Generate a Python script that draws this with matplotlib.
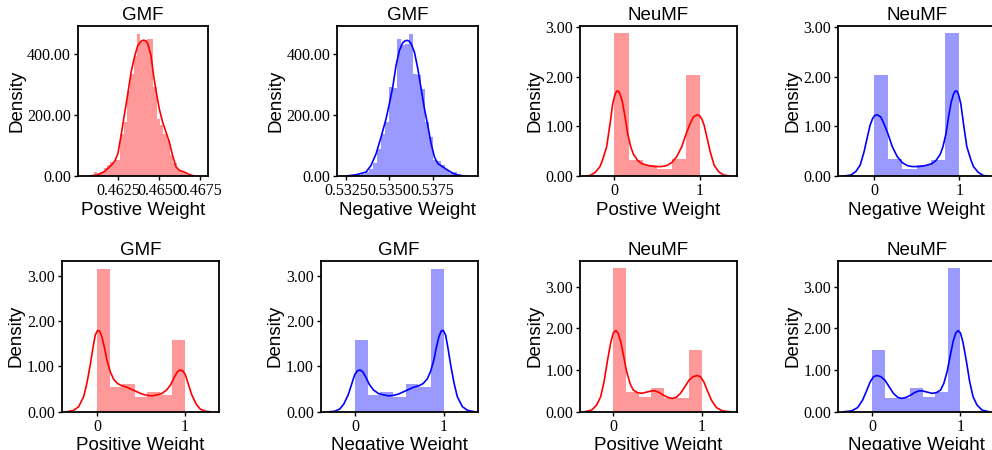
import numpy as np
import matplotlib
matplotlib.use("Agg")
import matplotlib.pyplot as plt
from matplotlib.ticker import FormatStrFormatter

# 1. Data

titles = ["GMF", "GMF", "NeuMF", "NeuMF", "GMF", "GMF", "NeuMF", "NeuMF"]
xlabels = ["Postive Weight", "Negative Weight", "Postive Weight", "Negative Weight",
           "Positive Weight", "Negative Weight", "Positive Weight", "Negative Weight"]
colors = ["r", "b", "r", "b", "r", "b", "r", "b"]

# GMF, positive weight (top row)
p1_bins = np.linspace(0.46098, 0.46667, 29)
p1_hist = [13, 11, 13, 26, 37, 46, 51, 51, 139, 177, 281, 336, 396, 468,
           442, 446, 451, 451, 292, 188, 166, 139, 117, 70, 44, 19, 15, 11]
p1_kde_x = [0.46073, 0.46124, 0.46165, 0.46205, 0.46226, 0.46246, 0.46266, 0.46287,
            0.46307, 0.46327, 0.46348, 0.46368, 0.46388, 0.46399, 0.46409, 0.46419,
            0.46429, 0.46449, 0.46465, 0.46480, 0.46500, 0.46520, 0.46541, 0.46561,
            0.46581, 0.46602, 0.46622, 0.46652, 0.46683, 0.46713]
p1_kde_y = [0, 4, 15, 35, 48, 73, 134, 205, 270, 341, 391, 429, 443, 446, 446, 443,
            435, 396, 329, 280, 220, 177, 144, 112, 68, 30, 19, 13, 5, 0]

# GMF, negative weight (top row)
p2_bins = np.linspace(0.53312, 0.53912, 27)
p2_hist = [4, 8, 13, 24, 44, 90, 139, 177, 292, 289, 451, 429, 435, 468,
           336, 331, 287, 177, 128, 51, 48, 35, 19, 11, 13, 8]
p2_kde_x = [0.532502, 0.533080, 0.533657, 0.533946, 0.534235, 0.534523, 0.534812,
            0.535004, 0.535197, 0.535389, 0.535582, 0.535774, 0.535900, 0.536024,
            0.536140, 0.536256, 0.536448, 0.536641, 0.536833, 0.537025, 0.537218,
            0.537410, 0.537603, 0.537795, 0.538084, 0.538373, 0.538661, 0.538950,
            0.539335]
p2_kde_y = [0, 4, 13, 35, 73, 128, 188, 238, 292, 364, 413, 438, 444, 446, 443, 435,
            407, 353, 287, 221, 166, 106, 62, 41, 30, 19, 9, 3, 0]

# NeuMF, positive weight (top row)
p3_bins = np.linspace(0, 1, 7)
p3_hist = [2.87, 0.32, 0.22, 0.14, 0.34, 2.04]
p3_kde_x = [-0.330, -0.284, -0.225, -0.167, -0.136, -0.089, -0.050, -0.019, 0.008,
            0.028, 0.047, 0.067, 0.094, 0.125, 0.156, 0.191, 0.222, 0.269, 0.319,
            0.397, 0.475, 0.553, 0.611, 0.669, 0.728, 0.786, 0.837, 0.883, 0.922,
            0.961, 0.992, 1.019, 1.047, 1.078, 1.117, 1.163, 1.214, 1.272, 1.350]
p3_kde_y = [0, 0.01, 0.07, 0.19, 0.33, 0.59, 1.05, 1.45, 1.64, 1.71, 1.71, 1.65, 1.49,
            1.19, 0.85, 0.59, 0.44, 0.32, 0.25, 0.21, 0.19, 0.19, 0.21, 0.27, 0.39,
            0.59, 0.85, 1.05, 1.19, 1.23, 1.22, 1.15, 1.02, 0.79, 0.49, 0.22, 0.09,
            0.02, 0]

# NeuMF, negative weight (top row)
p4_bins = np.linspace(0, 1, 7)
p4_hist = [2.04, 0.34, 0.14, 0.22, 0.32, 2.87]
p4_kde_x = [-0.350, -0.272, -0.214, -0.163, -0.117, -0.078, -0.047, -0.019, 0.008,
            0.039, 0.078, 0.117, 0.163, 0.214, 0.272, 0.331, 0.389, 0.447, 0.525,
            0.603, 0.681, 0.731, 0.778, 0.809, 0.844, 0.875, 0.906, 0.933, 0.953,
            0.972, 0.992, 1.019, 1.050, 1.089, 1.136, 1.167, 1.225, 1.284, 1.330]
p4_kde_y = [0, 0.02, 0.09, 0.22, 0.49, 0.79, 1.02, 1.15, 1.22, 1.23, 1.19, 1.05, 0.85,
            0.59, 0.39, 0.27, 0.21, 0.19, 0.19, 0.21, 0.25, 0.32, 0.44, 0.59, 0.85,
            1.19, 1.49, 1.65, 1.71, 1.71, 1.64, 1.45, 1.05, 0.59, 0.33, 0.19, 0.07,
            0.01, 0]

# GMF, positive weight (bottom row)
p5_bins = np.linspace(0, 1, 8)
p5_hist = [3.15, 0.54, 0.60, 0.32, 0.43, 0.37, 1.58]
p5_kde_x = [-0.340, -0.265, -0.208, -0.151, -0.114, -0.076, -0.046, -0.019, 0.007,
            0.030, 0.056, 0.083, 0.113, 0.151, 0.188, 0.234, 0.283, 0.339, 0.396,
            0.453, 0.509, 0.566, 0.623, 0.679, 0.736, 0.792, 0.838, 0.875, 0.913,
            0.943, 0.974, 1.004, 1.038, 1.076, 1.125, 1.170, 1.227, 1.283]
p5_kde_y = [0, 0.03, 0.11, 0.33, 0.63, 1.03, 1.40, 1.69, 1.79, 1.78, 1.65, 1.43, 1.14,
            0.88, 0.72, 0.62, 0.57, 0.54, 0.49, 0.44, 0.39, 0.36, 0.35, 0.37, 0.40,
            0.48, 0.60, 0.75, 0.88, 0.92, 0.90, 0.81, 0.60, 0.37, 0.17, 0.06, 0.01, 0]

# GMF, negative weight (bottom row)
p6_bins = np.linspace(0, 1, 8)
p6_hist = [1.58, 0.37, 0.43, 0.32, 0.60, 0.54, 3.15]
p6_kde_x = [-0.283, -0.227, -0.170, -0.125, -0.076, -0.038, -0.004, 0.026, 0.057,
            0.087, 0.125, 0.162, 0.208, 0.264, 0.321, 0.377, 0.434, 0.491, 0.547,
            0.604, 0.661, 0.717, 0.766, 0.812, 0.849, 0.887, 0.917, 0.944, 0.970,
            0.993, 1.019, 1.046, 1.076, 1.114, 1.151, 1.208, 1.265, 1.340]
p6_kde_y = [0, 0.01, 0.06, 0.17, 0.37, 0.60, 0.81, 0.90, 0.92, 0.88, 0.75, 0.60, 0.48,
            0.40, 0.37, 0.35, 0.36, 0.39, 0.44, 0.49, 0.54, 0.57, 0.62, 0.72, 0.88,
            1.14, 1.43, 1.65, 1.78, 1.79, 1.69, 1.40, 1.03, 0.63, 0.33, 0.11, 0.03, 0]

# NeuMF, positive weight (bottom row)
p7_bins = np.linspace(0, 1, 8)
p7_hist = [3.44, 0.48, 0.36, 0.58, 0.32, 0.32, 1.49]
p7_kde_x = [-0.318, -0.243, -0.187, -0.142, -0.104, -0.067, -0.030, 0.000, 0.027,
            0.053, 0.083, 0.113, 0.150, 0.188, 0.225, 0.270, 0.319, 0.375, 0.431,
            0.469, 0.517, 0.570, 0.618, 0.667, 0.712, 0.757, 0.806, 0.854, 0.899,
            0.944, 0.982, 1.019, 1.057, 1.105, 1.161, 1.229, 1.311]
p7_kde_y = [0, 0.04, 0.16, 0.36, 0.72, 1.21, 1.65, 1.89, 1.95, 1.89, 1.69, 1.37, 0.97,
            0.68, 0.52, 0.46, 0.44, 0.47, 0.50, 0.50, 0.46, 0.39, 0.34, 0.32, 0.35,
            0.44, 0.60, 0.76, 0.84, 0.87, 0.84, 0.72, 0.52, 0.28, 0.10, 0.02, 0]

# NeuMF, negative weight (bottom row)
p8_bins = np.linspace(0, 1, 8)
p8_hist = [1.49, 0.32, 0.32, 0.58, 0.36, 0.48, 3.44]
p8_kde_x = [-0.311, -0.229, -0.161, -0.105, -0.057, -0.019, 0.018, 0.056, 0.101,
            0.146, 0.194, 0.243, 0.288, 0.333, 0.382, 0.430, 0.483, 0.531, 0.569,
            0.625, 0.681, 0.730, 0.775, 0.812, 0.850, 0.887, 0.917, 0.947, 0.973,
            1.000, 1.030, 1.067, 1.104, 1.142, 1.187, 1.243, 1.318]
p8_kde_y = [0, 0.02, 0.10, 0.28, 0.52, 0.72, 0.84, 0.87, 0.84, 0.76, 0.60, 0.44, 0.35,
            0.32, 0.34, 0.39, 0.46, 0.50, 0.50, 0.47, 0.44, 0.46, 0.52, 0.68, 0.97,
            1.37, 1.69, 1.89, 1.95, 1.89, 1.65, 1.21, 0.72, 0.36, 0.16, 0.04, 0]

bins = [p1_bins, p2_bins, p3_bins, p4_bins, p5_bins, p6_bins, p7_bins, p8_bins]
hists = [p1_hist, p2_hist, p3_hist, p4_hist, p5_hist, p6_hist, p7_hist, p8_hist]
kde_x = [p1_kde_x, p2_kde_x, p3_kde_x, p4_kde_x, p5_kde_x, p6_kde_x, p7_kde_x, p8_kde_x]
kde_y = [p1_kde_y, p2_kde_y, p3_kde_y, p4_kde_y, p5_kde_y, p6_kde_y, p7_kde_y, p8_kde_y]

xticks = [[0.4625, 0.4650, 0.4675], [0.5325, 0.5350, 0.5375]] + [[0, 1]] * 6
xfmt = ["%.4f", "%.4f"] + ["%d"] * 6
yticks = [[0, 200, 400], [0, 200, 400]] + [[0, 1, 2, 3]] * 6

# 2. Layout (pixel boxes: left, right, top, bottom) and axis limits
W, H = 992, 450
boxes = [(78, 207.5, 26, 176), (337.3, 478.3, 26, 176), (580, 737, 26, 176),
         (838.3, 995, 26, 176), (61.7, 219, 261, 411.7), (320.7, 477.7, 261, 411.7),
         (580, 736.7, 261, 411.7), (838.3, 995, 261, 411.7)]
xlims = [(0.46002, 0.46795), (0.53200, 0.54013), (-0.40, 1.43), (-0.42, 1.42),
         (-0.40, 1.385), (-0.385, 1.38), (-0.375, 1.39), (-0.38, 1.39)]
ylims = [493, 493, 3.02, 3.02, 3.32, 3.32, 3.62, 3.62]

sans = "Liberation Sans"
serif = "Liberation Serif"

fig = plt.figure(figsize=(W / 100, H / 100), dpi=100)

for i in range(8):
    l, r, t, b = boxes[i]
    ax = fig.add_axes([l / W, 1 - b / H, (r - l) / W, (b - t) / H])
    c = colors[i]
    edges = bins[i]
    centers = (edges[:-1] + edges[1:]) / 2
    ax.hist(centers, bins=edges, weights=hists[i], histtype="stepfilled",
            color=c, alpha=0.4, linewidth=0)
    ax.plot(kde_x[i], kde_y[i], color=c, lw=1.2)
    ax.set_xlim(*xlims[i])
    ax.set_ylim(0, ylims[i])
    ax.set_xticks(xticks[i])
    ax.set_yticks(yticks[i])
    ax.xaxis.set_major_formatter(FormatStrFormatter(xfmt[i]))
    ax.yaxis.set_major_formatter(FormatStrFormatter("%.2f"))
    ax.tick_params(direction="out", length=3, width=1, pad=2, labelsize=11.5)
    for lab in ax.get_xticklabels() + ax.get_yticklabels():
        lab.set_fontfamily(serif)
    for s in ax.spines.values():
        s.set_linewidth(1.3)
    ax.set_title(titles[i], fontsize=13.5, family=sans, pad=4)
    ax.set_xlabel(xlabels[i], fontsize=13.5, family=sans, labelpad=2)
    ax.set_ylabel("Density", fontsize=13.5, family=sans, labelpad=1.5)

fig.savefig("out.png", dpi=100)
